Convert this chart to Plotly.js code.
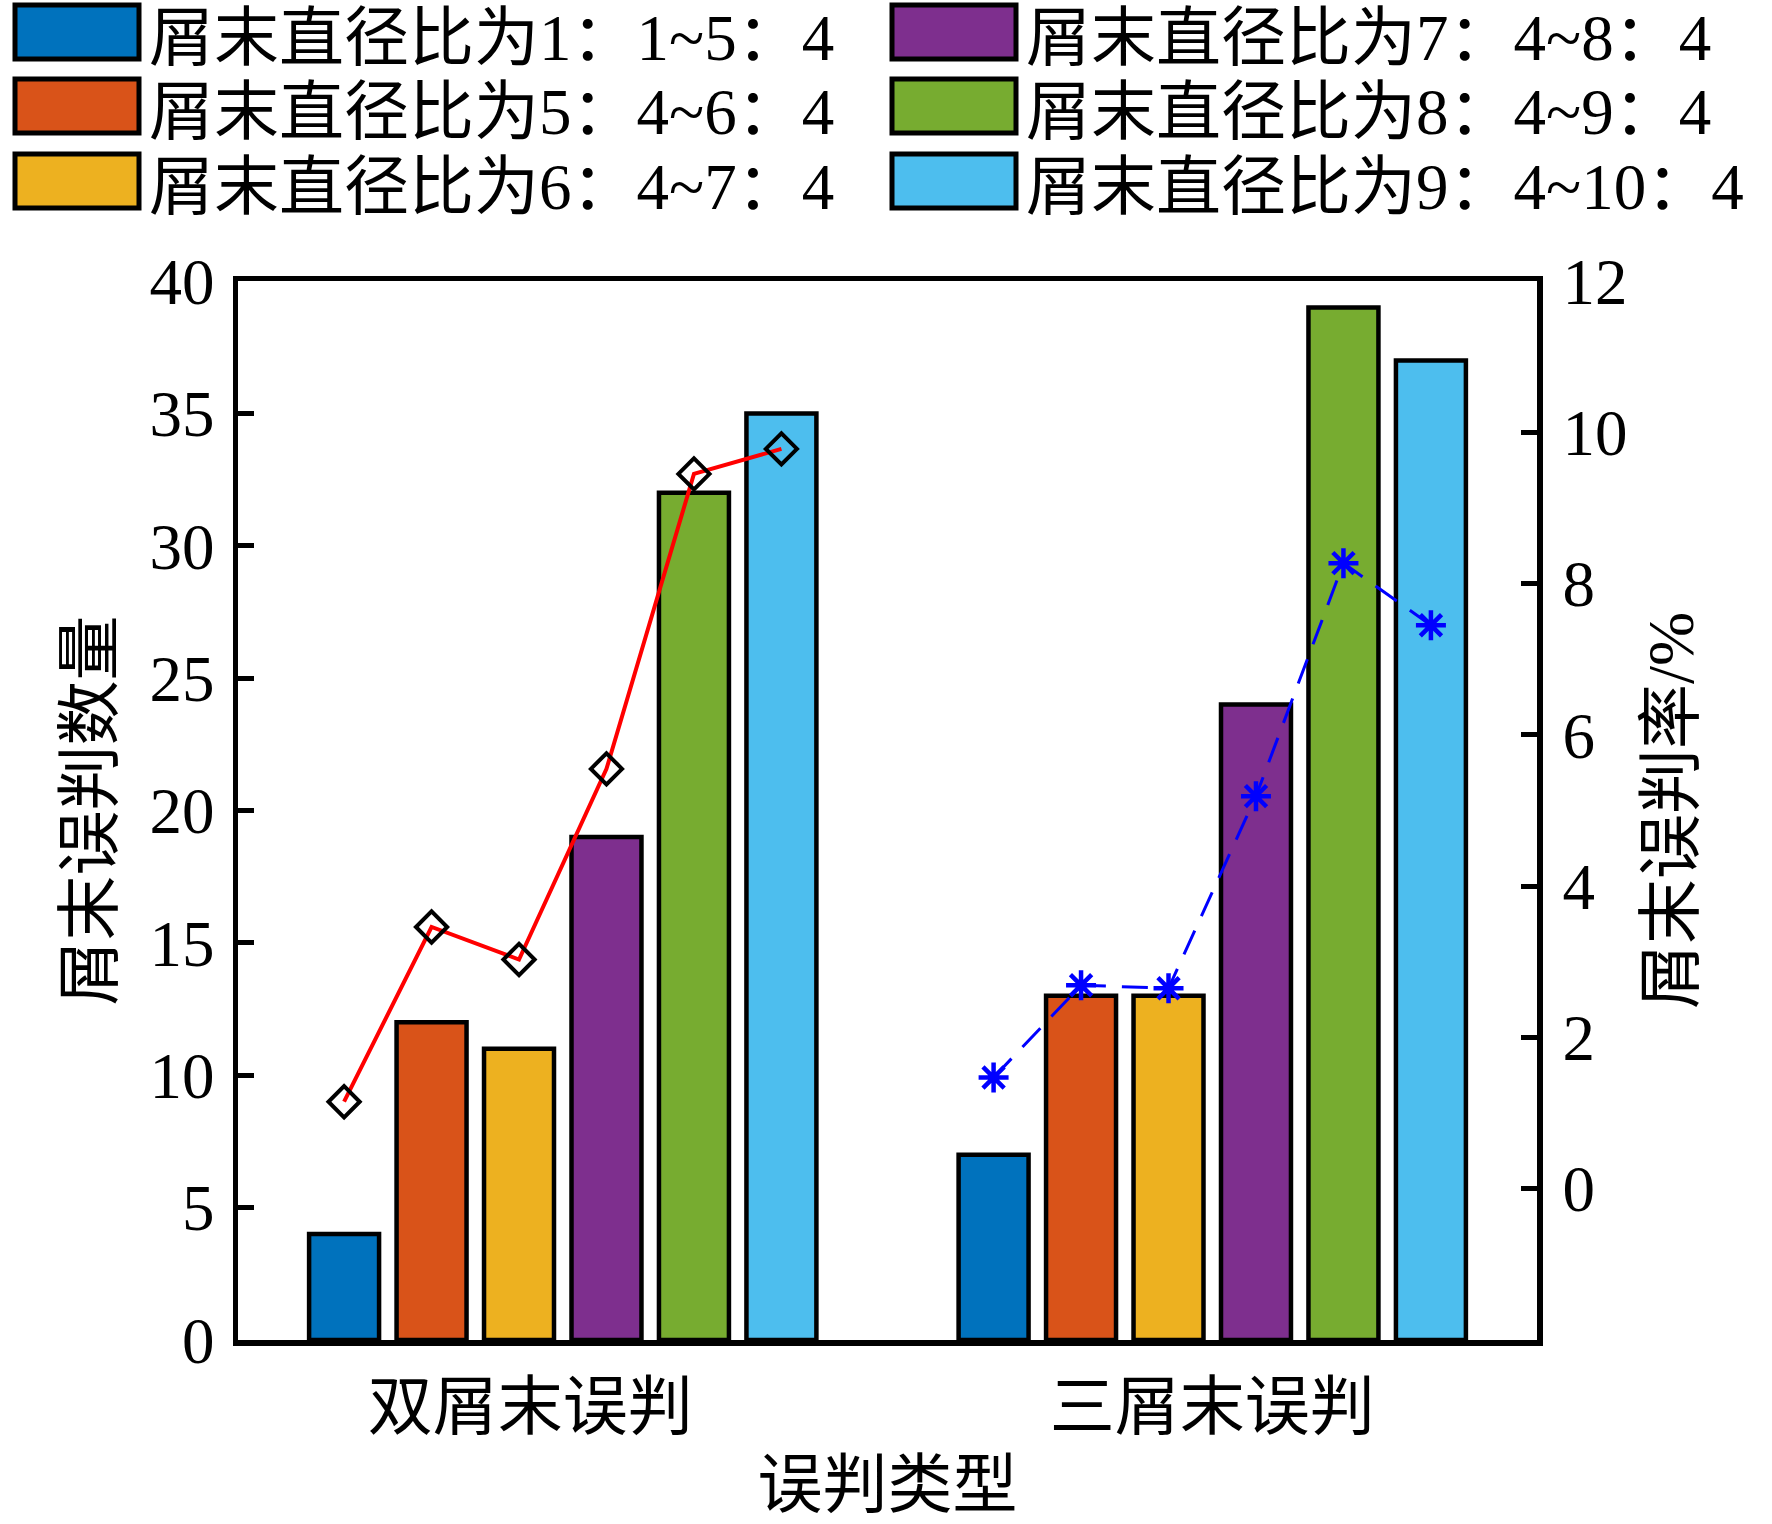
<!DOCTYPE html>
<html>
<head>
<meta charset="utf-8">
<script src="https://cdn.plot.ly/plotly-3.0.1.min.js"></script>
<style>
  body { margin: 0; background: #fff; }
  #chart { width: 1772px; height: 1524px; }
</style>
</head>
<body>
<div id="chart"></div>
<script>
// groups on the x axis (numeric positions 1 and 2) and their labels
const groupPos = [1, 2];
const groupLabels = ['双屑末误判\u3000', '三屑末误判'];

// one series per diameter-ratio class
const seriesNames = [
  '屑末直径比为1：1~5：4',
  '屑末直径比为5：4~6：4',
  '屑末直径比为6：4~7：4',
  '屑末直径比为7：4~8：4',
  '屑末直径比为8：4~9：4',
  '屑末直径比为9：4~10：4'
];
const seriesColors = ['#0072BD', '#D95319', '#EDB120', '#7E2F8E', '#77AC30', '#4DBEEE'];

// misjudgment counts: [双屑末, 三屑末] for each series
const countDouble = [4, 12, 11, 19, 32, 35];
const countTriple = [7, 13, 13, 24, 39, 37];

// misjudgment rate (%) per series
const rateDouble = [1.15, 3.46, 3.03, 5.55, 9.45, 9.78];
const rateTriple = [1.47, 2.69, 2.65, 5.19, 8.27, 7.45];

const FONT = 'Liberation Serif, "Times New Roman", "Noto Sans CJK SC", serif';
const FS = 65;

const bargap = 0.192;
const slot = (1 - bargap) / seriesNames.length;

// plot area in pixels, used to place the hand drawn legend
const L = 238, R = 1537, T = 281, B = 1340;
function px(x) { return (x - L) / (R - L); }
function py(y) { return (B - y) / (B - T); }

let traces = [];
for (let i = 0; i < seriesNames.length; i++) {
  traces.push({
    type: 'bar',
    name: seriesNames[i],
    x: groupPos,
    y: [countDouble[i], countTriple[i]],
    marker: { color: seriesColors[i], line: { color: '#000', width: 4.5 } },
    showlegend: false
  });
}

// bar centres inside each group, for the rate lines
function centres(g) {
  let xs = [];
  for (let i = 0; i < seriesNames.length; i++) {
    xs.push(g + (i - (seriesNames.length - 1) / 2) * slot);
  }
  return xs;
}

traces.push({
  type: 'scatter',
  mode: 'lines+markers',
  x: centres(groupPos[0]),
  y: rateDouble,
  yaxis: 'y2',
  line: { color: '#FF0000', width: 4 },
  marker: { symbol: 'diamond-open', size: 24, color: '#000', line: { color: '#000', width: 4 } },
  showlegend: false
});
traces.push({
  type: 'scatter',
  mode: 'lines+markers',
  x: centres(groupPos[1]),
  y: rateTriple,
  yaxis: 'y2',
  line: { color: '#0000FF', width: 3, dash: '26px,16px' },
  marker: { symbol: 'asterisk-open', size: 25, color: '#0000FF', line: { color: '#0000FF', width: 4.5 } },
  showlegend: false
});

// legend: two columns, three rows, big swatches
let shapes = [], annotations = [];
const colX = [15, 892], rowY = [5, 79, 154];
const swW = 124, swH = 54, textGap = 9;
for (let i = 0; i < seriesNames.length; i++) {
  let c = Math.floor(i / 3), r = i % 3;
  let x0 = colX[c], y0 = rowY[r];
  shapes.push({
    type: 'rect', xref: 'paper', yref: 'paper',
    x0: px(x0), x1: px(x0 + swW), y0: py(y0), y1: py(y0 + swH),
    fillcolor: seriesColors[i], line: { color: '#000', width: 5 }
  });
  annotations.push({
    xref: 'paper', yref: 'paper', x: px(x0 + swW + textGap), y: py(y0 + swH / 2 + 6),
    xanchor: 'left', yanchor: 'middle', showarrow: false, borderpad: 0,
    text: seriesNames[i], font: { family: FONT, size: FS, color: '#000' }
  });
}

let layout = {
  width: 1772,
  height: 1524,
  margin: { l: L, r: 1772 - R, t: T, b: 1524 - B },
  paper_bgcolor: '#fff',
  plot_bgcolor: '#fff',
  barmode: 'group',
  bargap: bargap,
  bargroupgap: 0.2,
  font: { family: FONT, size: FS, color: '#000' },
  xaxis: {
    range: [0.5, 2.5],
    tickvals: groupPos,
    ticktext: groupLabels,
    ticks: '',
    showline: true, mirror: true, linecolor: '#000', linewidth: 5.5,
    showgrid: false, zeroline: false,
    ticklabelstandoff: 5,
    title: { text: '误判类型', standoff: 22, font: { family: FONT, size: FS } }
  },
  yaxis: {
    range: [0, 40],
    dtick: 5,
    ticks: 'inside', ticklen: 16, tickwidth: 5, tickcolor: '#000',
    showline: true, linecolor: '#000', linewidth: 5.5,
    showgrid: false, zeroline: false,
    ticklabelstandoff: 5,
    title: { text: '屑末误判数量', standoff: 18, font: { family: FONT, size: FS } }
  },
  yaxis2: {
    overlaying: 'y',
    side: 'right',
    range: [-2, 12],
    tickvals: [0, 2, 4, 6, 8, 10, 12],
    ticks: 'inside', ticklen: 16, tickwidth: 5, tickcolor: '#000',
    showline: true, linecolor: '#000', linewidth: 5.5,
    showgrid: false, zeroline: false,
    ticklabelstandoff: 7,
    title: { text: '屑末误判率/%', standoff: 23, font: { family: FONT, size: FS } }
  },
  shapes: shapes,
  annotations: annotations
};

Plotly.newPlot('chart', traces, layout, { displayModeBar: false, staticPlot: true });
</script>
</body>
</html>
